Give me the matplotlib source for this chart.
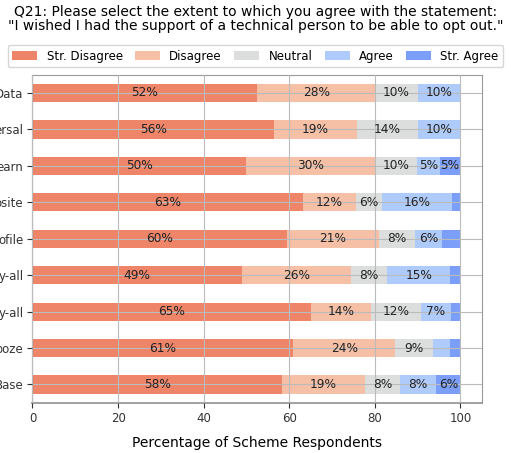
import numpy as np
import matplotlib.pyplot as plt

# Likert answers per scheme, top row first (percent of respondents)
schemes = ["Data", "ersal", "earn", "osite", "ofile", "y-all", "y-all", "ooze", "Base"]
levels = ["Str. Disagree", "Disagree", "Neutral", "Agree", "Str. Agree"]
str_disagree = [52.4, 56.4, 49.8, 63.3, 59.5, 48.9, 65.2, 61.0, 58.3]
disagree = [27.8, 19.4, 30.2, 12.3, 21.4, 25.6, 14.0, 23.8, 19.4]
neutral = [9.8, 14.4, 9.8, 6.1, 8.5, 8.4, 11.5, 8.7, 8.2]
agree = [10.0, 9.8, 5.4, 16.3, 6.4, 14.8, 7.1, 4.2, 8.5]
str_agree = [0.0, 0.0, 4.8, 2.0, 4.2, 2.3, 2.2, 2.3, 5.6]

colors = ["#ee8468", "#f5c0a6", "#dcdddd", "#aecbfb", "#7b9ff9"]

series = [str_disagree, disagree, neutral, agree, str_agree]

fig = plt.figure(figsize=(5.11, 4.53), dpi=100)
ax = fig.add_axes([0.0636, 0.111, 0.8791, 0.724])

ypos = np.arange(len(schemes))
left = np.zeros(len(schemes))
for name, vals, col in zip(levels, series, colors):
    vals = np.array(vals)
    ax.barh(ypos, vals, left=left, height=0.5, color=col, label=name)
    for y, l, v in zip(ypos, left, vals):
        if round(v) >= 5:
            ax.text(l + v / 2, y, f"{v:.0f}%", ha="center", va="center",
                    fontsize=8.7, color="#222222")
    left = left + vals

ax.set_xlim(0, 105)
ax.set_ylim(len(schemes) - 0.5, -0.5)
ax.set_yticks(ypos)
ax.set_yticklabels(schemes)
ax.set_xticks([0, 20, 40, 60, 80, 100])
ax.tick_params(labelsize=8.5, colors="#333333", pad=3)
ax.grid(True, color="#bbbbbb", linewidth=0.8)
ax.set_axisbelow(False)
for s in ["top", "right", "bottom"]:
    ax.spines[s].set_color("#999999")
ax.spines["bottom"].set_linewidth(1.3)
ax.spines["left"].set_color("#555555")
ax.set_xlabel("Percentage of Scheme Respondents", fontsize=10, labelpad=8)

fig.legend(loc="center", bbox_to_anchor=(0.5, 0.876), ncol=5, fontsize=8.5,
           handlelength=2.1, columnspacing=1.05, handletextpad=0.8,
           borderpad=0.4, borderaxespad=0.2)
fig.suptitle("Q21: Please select the extent to which you agree with the statement:\n"
             "\"I wished I had the support of a technical person to be able to opt out.\"",
             y=0.99, fontsize=10, linespacing=1.05)

fig.savefig("out.png", dpi=100)
